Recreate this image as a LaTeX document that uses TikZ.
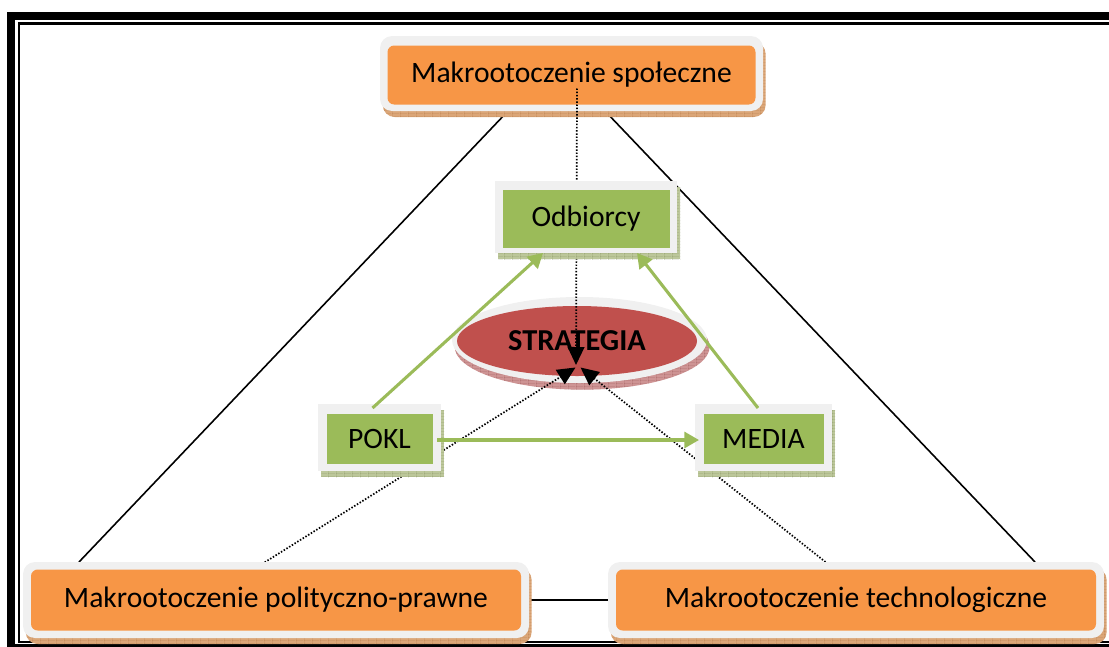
\documentclass[tikz,border=0pt]{standalone}
\usepackage{fontspec}
\setmainfont{Carlito}
\usetikzlibrary{shapes.geometric,arrows.meta,calc,shadows,patterns.meta}

\definecolor{orangefill}{HTML}{F79646}
\definecolor{greenfill}{HTML}{9BBB59}
\definecolor{redfill}{HTML}{C0504D}
\definecolor{rimgrey}{HTML}{F0F0F0}
\definecolor{orangeshadow}{HTML}{DBA678}
\definecolor{orangegrid}{HTML}{9A5A25}
\definecolor{greenshadow}{HTML}{BCC79A}
\definecolor{greengrid}{HTML}{5E6D36}
\definecolor{redshadow}{HTML}{CE9494}
\definecolor{redgrid}{HTML}{7A2E2E}

% fine grid used inside the box shadows
\tikzdeclarepattern{name=shadowgrid, type=uncolored,
  bounding box={(0pt,0pt) and (6pt,2.5pt)}, tile size={(6pt,2.5pt)},
  code={\draw[line width=0.4pt] (0pt,0pt) -- (6pt,0pt) (0pt,0pt) -- (0pt,2.5pt);}}

\pgfdeclarelayer{background}
\pgfdeclarelayer{low}
\pgfdeclarelayer{mid}
\pgfdeclarelayer{foreground}
\pgfsetlayers{background,low,mid,main,foreground}

\tikzset{
  txt/.style={font=\fontsize{22.2}{26}\selectfont, text=black},
  rim/.style={fill=rimgrey, inner sep=0pt, outer sep=0pt},
  orangerim/.style={rim, rectangle, rounded corners=9pt,
    general shadow={shadow xshift=2pt, shadow yshift=-4.5pt, fill=orangeshadow,
      postaction={pattern=shadowgrid, pattern color=orangegrid}}},
  orangecore/.style={txt, rectangle, rounded corners=5pt, fill=orangefill, inner sep=0pt},
  greenrim/.style={rim, rectangle,
    general shadow={shadow xshift=2.5pt, shadow yshift=-4.5pt, fill=greenshadow,
      postaction={pattern=shadowgrid, pattern color=greengrid}}},
  greencore/.style={txt, rectangle, fill=greenfill, inner sep=0pt},
  redrim/.style={rim, ellipse,
    general shadow={shadow xshift=2pt, shadow yshift=-5pt, fill=redshadow,
      postaction={pattern=shadowgrid, pattern color=redgrid}}},
  redcore/.style={txt, ellipse, fill=redfill, inner sep=0pt, font=\fontsize{22.8}{26}\selectfont\bfseries},
  solidlink/.style={draw=black, line width=1.2pt},
  dotlink/.style={draw=black, line width=1.3pt, dash pattern=on 1.1pt off 1.3pt,
    -{Triangle[length=13.5pt,width=12.5pt]}},
  greenlink/.style={draw=greenfill, line width=2.3pt,
    -{Triangle[length=11pt,width=12pt]}},
}

\begin{document}
\begin{tikzpicture}[x=0.75pt, y=-0.75pt]
\useasboundingbox (0,0) rectangle (1109,646);

% double page frame
\begin{pgfonlayer}{background}
  \draw[line width=6pt] (11,16) rectangle (1140,648);
  \draw[line width=2pt] (19,23.5) rectangle (1135,642);
\end{pgfonlayer}

% lower layer: strategy ellipse and top environment box
\begin{pgfonlayer}{low}
  \node[redrim, minimum width=191.25pt, minimum height=64.5pt] (ell) at (579.5,340) {};
  \node[redcore, minimum width=180pt, minimum height=52.5pt] (ellin) at (577,341) {STRATEGIA};
  \node[orangerim, minimum width=287.25pt, minimum height=56.25pt] (top) at (571.5,73.5) {};
  \node[orangecore, minimum width=276pt, minimum height=44.25pt] (topin) at ($(top.center)+(0,1.5)$) {Makrootoczenie społeczne};
\end{pgfonlayer}

% main layer: remaining boxes
\node[greenrim, minimum width=136.5pt, minimum height=54pt] (odb) at (586,217) {};
\node[greencore, minimum width=125.25pt, minimum height=43.5pt] (odbin) at ($(odb.center)+(0,1.5)$) {Odbiorcy};

\node[greenrim, minimum width=92.25pt, minimum height=50.25pt] (pokl) at (379.5,437.5) {};
\node[greencore, minimum width=79.5pt, minimum height=37.5pt] (poklin) at ($(pokl.center)+(0,1.5)$) {POKL};

\node[greenrim, minimum width=102.75pt, minimum height=50.25pt] (media) at (763.5,437.5) {};
\node[greencore, minimum width=90pt, minimum height=37.5pt] (mediain) at ($(media.center)+(0,1.5)$) {MEDIA};

\node[orangerim, minimum width=379.5pt, minimum height=57pt] (bl) at (276,600) {};
\node[orangecore, minimum width=367.5pt, minimum height=45.75pt] (blin) at (bl.center) {Makrootoczenie polityczno-prawne};

\node[orangerim, minimum width=372pt, minimum height=57pt] (br) at (856,600) {};
\node[orangecore, minimum width=360pt, minimum height=45.75pt] (brin) at (br.center) {Makrootoczenie technologiczne};

% solid links between the environment boxes
\begin{pgfonlayer}{background}
  \draw[solidlink] ($(top.south)+(-63.5,0)$) -- ($(bl.north west)+(56,0)$);
  \draw[solidlink] ($(top.south)+(33.5,0)$) -- ($(br.north west)+(427,0)$);
  \draw[solidlink] (bl.east) -- (br.west);
\end{pgfonlayer}

% dotted influences converging on the strategy
\begin{pgfonlayer}{mid}
  \draw[dotlink] ($(top.center)+(5.5,15)$) -- ($(ell.center)+(-3.5,25)$);
  \draw[dotlink] ($(bl.north west)+(239,2)$) -- ($(ell.center)+(-4,27.5)$);
  \draw[dotlink] ($(br.north west)+(220,2)$) -- ($(ell.center)+(1,27.5)$);
\end{pgfonlayer}

% green relations between the actors
\begin{pgfonlayer}{foreground}
  \draw[greenlink] ($(pokl.north)+(-7,4)$) -- ($(odb.south)+(-43,0)$);
  \draw[greenlink] ($(media.north)+(-5.5,4)$) -- ($(odb.south)+(51,0)$);
  \draw[greenlink] ($(pokl.east)+(-4,2.5)$) -- ($(media.west)+(4,2.5)$);
\end{pgfonlayer}
\end{tikzpicture}
\end{document}
